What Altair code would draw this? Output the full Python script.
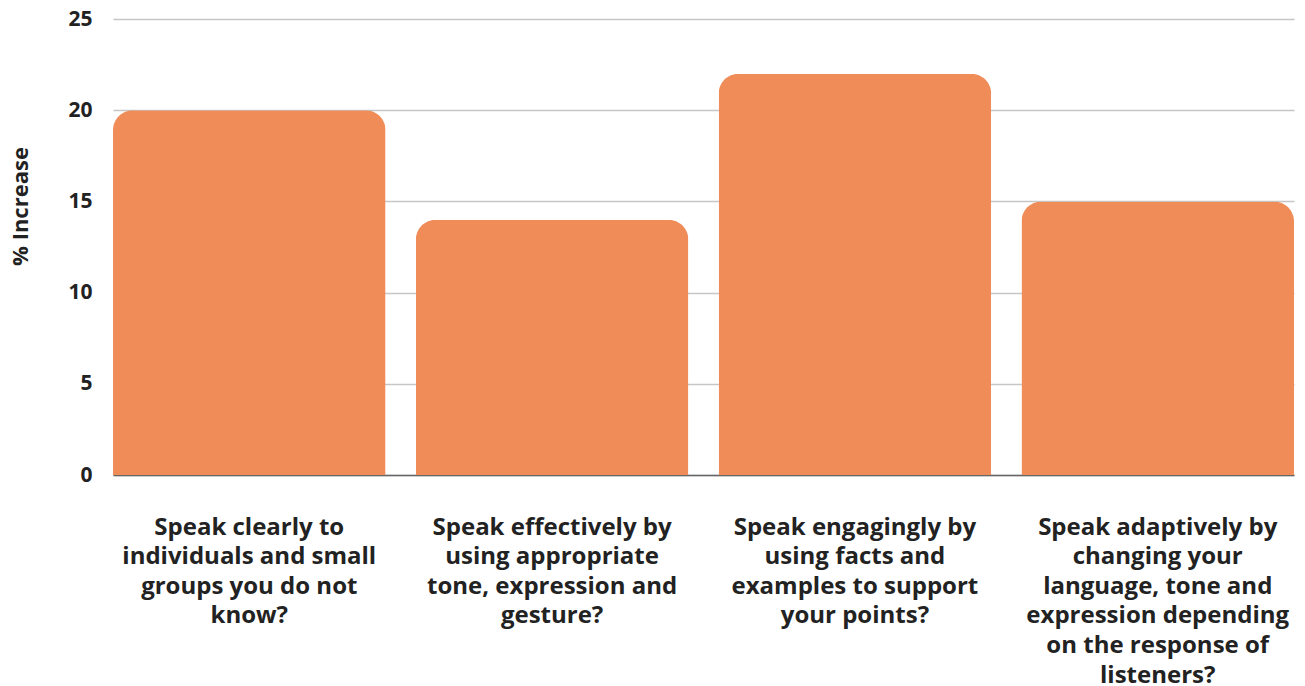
import altair as alt
import pandas as pd

categories = [
    "Speak clearly to|individuals and small|groups you do not|know?",
    "Speak effectively by|using appropriate|tone, expression and|gesture?",
    "Speak engagingly by|using facts and|examples to support|your points?",
    "Speak adaptively by|changing your|language, tone and|expression depending|on the response of|listeners?",
]
values = [20, 14, 22, 15]

df = pd.DataFrame({"cat": categories, "val": values})

FONT = "Open Sans"

chart = alt.Chart(df).mark_bar(
    color="#F08C58",
    cornerRadiusTopLeft=20,
    cornerRadiusTopRight=20,
).encode(
    x=alt.X(
        "cat:N",
        sort=categories,
        title=None,
        scale=alt.Scale(paddingInner=0.1, paddingOuter=0),
        axis=alt.Axis(
            labelAngle=0,
            labelExpr="split(datum.label, '|')",
            labelFont=FONT,
            labelFontWeight="bold",
            labelFontSize=24,
            labelColor="#222222",
            labelLineHeight=29.6,
            labelBaseline="top",
            labelPadding=40,
            labelLimit=400,
            ticks=False,
            domainColor="#666666",
            domainWidth=1.5,
            grid=False,
        ),
    ),
    y=alt.Y(
        "val:Q",
        title="% Increase",
        scale=alt.Scale(domain=[0, 25]),
        axis=alt.Axis(
            values=[0, 5, 10, 15, 20, 25],
            labelFont=FONT,
            labelFontWeight="bold",
            labelFontSize=21,
            labelColor="#222222",
            labelPadding=21,
            ticks=False,
            domain=False,
            gridColor="#c6c6c6",
            gridWidth=1.3,
            titleFont=FONT,
            titleFontWeight="bold",
            titleFontSize=22,
            titleColor="#222222",
            titlePadding=35,
            titleY=187,
        ),
    ),
).properties(
    width=1181,
    height=456,
    autosize=alt.AutoSizeParams(type="none"),
    padding={"left": 105, "top": 11, "right": 3, "bottom": 215},
).configure_view(stroke=None)

chart.save("out.html", embed_options={"renderer": "svg", "actions": False})
